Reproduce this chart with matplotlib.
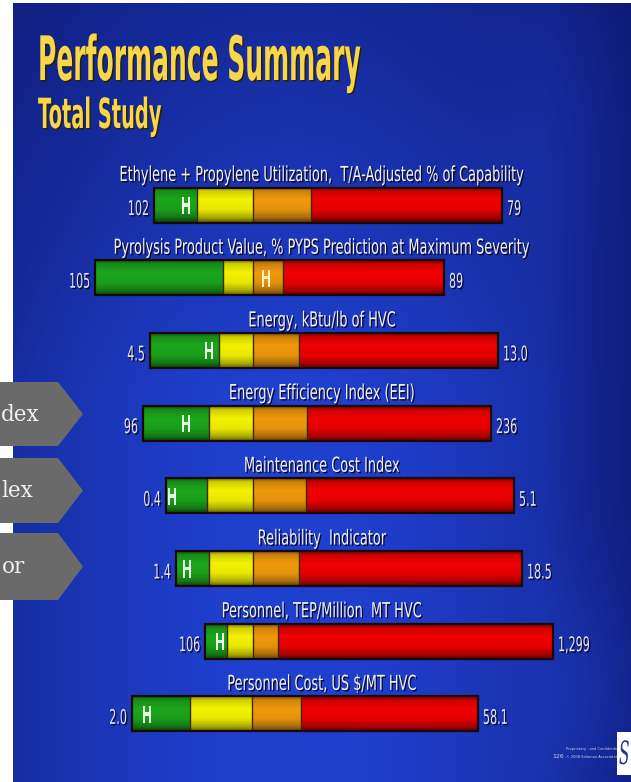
import numpy as np
import matplotlib
matplotlib.use("Agg")
import matplotlib.pyplot as plt
from matplotlib import patheffects
from matplotlib.colors import to_rgb, to_rgba
from matplotlib.patches import Polygon, Rectangle
from matplotlib.transforms import Affine2D


# Values
categories = [
    "Ethylene + Propylene Utilization,  T/A-Adjusted % of Capability",
    "Pyrolysis Product Value, % PYPS Prediction at Maximum Severity",
    "Energy, kBtu/lb of HVC",
    "Energy Efficiency Index (EEI)",
    "Maintenance Cost Index",
    "Reliability  Indicator",
    "Personnel, TEP/Million  MT HVC",
    "Personnel Cost, US $/MT HVC",
]
left_labels = ["102", "105", "4.5", "96", "0.4", "1.4", "106", "2.0"]
right_labels = ["79", "89", "13.0", "236", "5.1", "18.5", "1,299", "58.1"]

# band limits on the slide scale (start, end of green, yellow, orange, end of red)
bar_start = [154, 95, 150, 143, 166, 176, 205, 132]
green_end = [197, 223, 219, 209, 207, 209, 227, 190]
yellow_end = [253, 253, 253, 253, 253, 253, 253, 252]
orange_end = [311, 283, 299, 307, 306, 299, 278, 301]
bar_end = [502, 444, 498, 491, 514, 522, 553, 478]
h_pos = [186, 266, 209, 186, 172, 187, 220, 147]

band_colors = ["#1ca61c", "#f4f200", "#f09a0c", "#f00000"]


class Stretch(patheffects.AbstractPathEffect):
    """Draws the text stretched vertically (the slide was squashed sideways)."""

    def __init__(self, sy=1.6, sx=1.0, width=None, anchor="center", shadow="#08082a"):
        super().__init__()
        self.sy = sy
        self.sx = sx
        self.width = width
        self.anchor = anchor
        self.shadow = shadow

    def draw_path(self, renderer, gc, tpath, affine, rgbFace=None):
        ext = tpath.get_extents()
        sx = self.sx
        if self.width is not None:
            w = tpath.get_extents(affine).width
            if w > 0:
                sx = self.width / w
        cx = {"left": 0.0, "center": (ext.x0 + ext.x1) / 2, "right": ext.x1}[self.anchor]
        # scale about the baseline
        tr = Affine2D().translate(-cx, 0).scale(sx, self.sy).translate(cx, 0) + affine
        if self.shadow:
            gc0 = renderer.new_gc()
            gc0.copy_properties(gc)
            d = renderer.points_to_pixels(1.0)
            renderer.draw_path(gc0, tpath, tr + Affine2D().translate(d, -d),
                               to_rgba(self.shadow))
            gc0.restore()
        renderer.draw_path(gc, tpath, tr, rgbFace)


fig = plt.figure(figsize=(6.31, 7.82), dpi=100, facecolor="white")
ax = fig.add_axes([0, 0, 1, 1])

# blue slide background
yy, xx = np.mgrid[0:1:300j, 0:1:240j]
glow = np.exp(-((xx - 0.45) / 0.6) ** 2) * (0.5 + 0.5 * np.clip(yy * 2.0, 0, 1))
glow *= 1 - 0.45 * np.clip((xx - 0.86) / 0.14, 0, 1)
glow += 0.15 * np.exp(-((xx - 0.9) / 0.12) ** 2 - ((yy - 0.15) / 0.2) ** 2)
glow += 0.2 * np.exp(-((xx - 0.95) / 0.1) ** 2 - ((yy - 0.88) / 0.15) ** 2)
dark = np.array([10, 20, 100]) / 255
bright = np.array([32, 64, 208]) / 255
bg = dark + (bright - dark) * np.clip(glow, 0, 1)[..., None]
ax.imshow(bg, extent=(13, 631, 782, 3), origin="upper", aspect="auto",
          interpolation="bilinear", zorder=0)

# title
ax.text(38, 80, "Performance Summary", fontsize=18, fontweight="bold", color="#f7d64c",
        ha="left", va="baseline",
        path_effects=[Stretch(sy=2.45, anchor="left", width=320, shadow="#2a2000")])
ax.text(38, 128, "Total Study", fontsize=13.6, fontweight="bold", color="#f7d64c",
        ha="left", va="baseline",
        path_effects=[Stretch(sy=2.2, anchor="left", width=123, shadow="#2a2000")])

# bars
bar_h = 35
t = np.linspace(0, 1, 40)
shade = np.interp(t, [0, 0.1, 0.35, 0.65, 0.88, 1], [0.5, 0.85, 1.0, 0.95, 0.7, 0.4])

for i, name in enumerate(categories):
    y = 205 + 72.7 * i
    edges = [bar_start[i], green_end[i], yellow_end[i], orange_end[i], bar_end[i]]
    for k, col in enumerate(band_colors):
        img = np.array(to_rgb(col))[None, None, :] * shade[:, None, None]
        ax.imshow(img, extent=(edges[k], edges[k + 1], y + bar_h / 2, y - bar_h / 2),
                  origin="upper", aspect="auto", interpolation="bilinear", zorder=2)
    ax.vlines(edges[1:4], y - bar_h / 2, y + bar_h / 2, color="#3a2508", lw=1.0, zorder=3)
    ax.barh(y, bar_end[i] - bar_start[i], left=bar_start[i], height=bar_h, fill=False,
            edgecolor="#180808", linewidth=1.6, zorder=3)

    ax.text(322, y - 24, name, fontsize=9.3, color="#f2f2f6", ha="center", va="baseline",
            path_effects=[Stretch(sy=1.6)], zorder=5)
    ax.text(bar_start[i] - 5, y + 10, left_labels[i], fontsize=8, color="#e4e4f4",
            ha="right", va="baseline", path_effects=[Stretch(sy=1.82, anchor="right")], zorder=5)
    ax.text(bar_end[i] + 5, y + 10, right_labels[i], fontsize=8, color="#e4e4f4",
            ha="left", va="baseline", path_effects=[Stretch(sy=1.82, anchor="left")], zorder=5)
    h_col = "#fff0c0" if h_pos[i] > yellow_end[i] else "#eaffea"
    ax.text(h_pos[i], y + 9, "H", fontsize=8.4, fontweight="bold", color=h_col,
            ha="center", va="baseline", path_effects=[Stretch(sy=2.0, shadow=None)], zorder=5)

# footer and logo
ax.text(552, 757, "126", fontsize=4.5, color="#d0d0e6", ha="left", va="center", zorder=5)
ax.text(566, 749, "Proprietary   and Confidential", fontsize=2.6, color="#d0d0e6",
        ha="left", va="center", zorder=5)
ax.text(566, 757, "\u00a9 2008 Solomon Associates", fontsize=2.6, color="#d0d0e6",
        ha="left", va="center", zorder=5)
ax.add_patch(Rectangle((617, 732), 14, 43, facecolor="white", edgecolor="none", zorder=5))
ax.text(619, 764, "S", fontsize=11, family="DejaVu Serif", style="italic", color="#24348a",
        ha="left", va="baseline", zorder=6,
        path_effects=[Stretch(sy=2.1, anchor="left", shadow=None)])

# grey arrow tabs over the left edge
for (y0, y1), word in zip([(382, 446), (458, 523), (533, 600)], ["dex", "lex", "or"]):
    mid = (y0 + y1) / 2
    ax.add_patch(Polygon([(0, y0), (58, y0), (83, mid), (58, y1), (0, y1)], closed=True,
                         facecolor="#6a6a6a", edgecolor="none", zorder=7))
ax.text(40, 415, "dex", fontsize=15.5, family="DejaVu Serif", color="#f0f0f0",
        ha="right", va="center", zorder=8)
ax.text(33, 491, "lex", fontsize=15.5, family="DejaVu Serif", color="#f0f0f0",
        ha="right", va="center", zorder=8)
ax.text(25, 567, "or", fontsize=15.5, family="DejaVu Serif", color="#f0f0f0",
        ha="right", va="center", zorder=8)

ax.set_xlim(0, 631)
ax.set_ylim(782, 0)
ax.axis("off")

fig.savefig("out.png", dpi=100, facecolor="white")
